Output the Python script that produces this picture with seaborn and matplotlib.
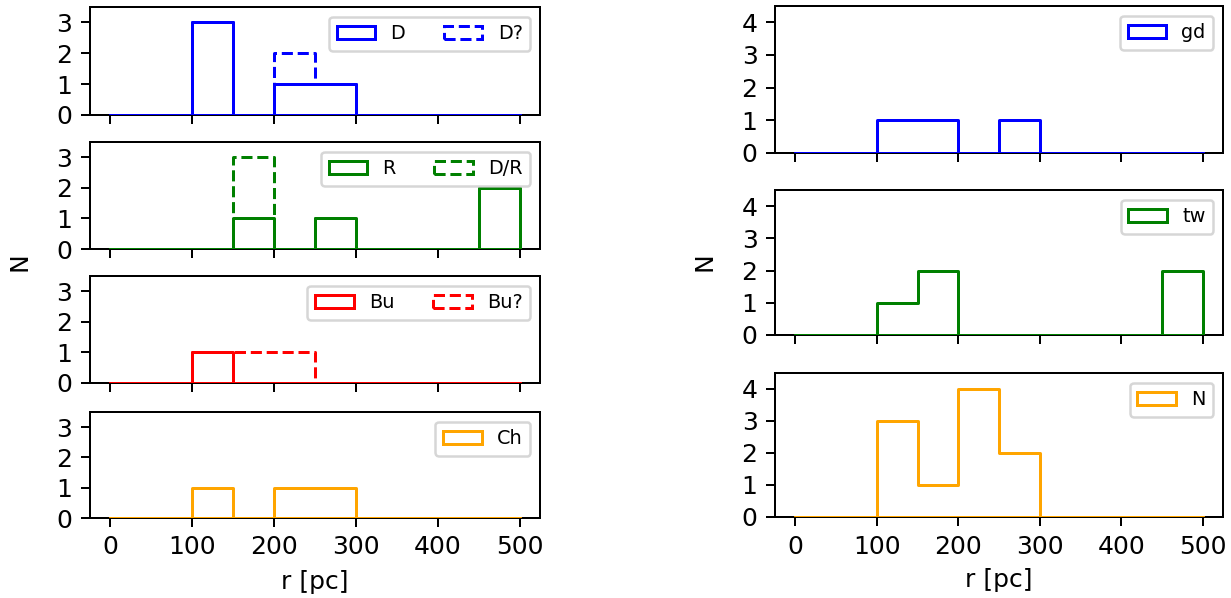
import pandas as pd
import matplotlib.pyplot as plt
from matplotlib.patches import Patch
import seaborn as sns

plt.rcParams.update({'font.size': 10})

# 50 pc bins from 0 to 500 pc
edges = list(range(0, 550, 50))
centers = [e + 25 for e in edges[:-1]]

# counts per bin (dashed series include the solid ones)
D = [0, 0, 3, 0, 1, 1, 0, 0, 0, 0]
D_q = [0, 0, 3, 0, 2, 1, 0, 0, 0, 0]
R = [0, 0, 0, 1, 0, 1, 0, 0, 0, 2]
D_R = [0, 0, 0, 3, 0, 1, 0, 0, 0, 2]
Bu = [0, 0, 1, 0, 0, 0, 0, 0, 0, 0]
Bu_q = [0, 0, 1, 1, 1, 0, 0, 0, 0, 0]
Ch = [0, 0, 1, 0, 1, 1, 0, 0, 0, 0]
gd = [0, 0, 1, 1, 0, 1, 0, 0, 0, 0]
tw = [0, 0, 1, 2, 0, 0, 0, 0, 0, 2]
N_ = [0, 0, 3, 1, 4, 2, 0, 0, 0, 0]

left_panels = [
    [("D", D, "blue", "-"), ("D?", D_q, "blue", "--")],
    [("R", R, "green", "-"), ("D/R", D_R, "green", "--")],
    [("Bu", Bu, "red", "-"), ("Bu?", Bu_q, "red", "--")],
    [("Ch", Ch, "orange", "-")],
]
right_panels = [
    [("gd", gd, "blue", "-")],
    [("tw", tw, "green", "-")],
    [("N", N_, "orange", "-")],
]

W, H, DPI = 1231, 598, 180
fig = plt.figure(figsize=(W / DPI, H / DPI), dpi=DPI)

def px_axes(x0, x1, y0, y1):
    return fig.add_axes([x0 / W, 1 - y1 / H, (x1 - x0) / W, (y1 - y0) / H])

left_rows = [(7, 115), (142, 249), (276, 383), (412, 518)]
right_rows = [(6, 153), (190, 335), (373, 517)]

def draw(ax, series, ymax, last):
    handles = []
    for label, counts, color, ls in series[::-1]:
        df = pd.DataFrame({"r": centers, "n": counts})
        # step outline, closed down to the baseline like a step histogram
        sns.histplot(data=df, x="r", weights="n", bins=edges, element="step",
                     fill=True, color=color, facecolor="none", edgecolor=color,
                     linestyle=ls, linewidth=1.2, zorder=3, ax=ax)
    for label, counts, color, ls in series:
        handles.append(Patch(facecolor="none", edgecolor=color, linestyle=ls,
                             linewidth=1.2, label=label))
    ax.set_xlim(-25, 525)
    ax.set_ylim(0, ymax)
    ax.set_yticks(range(int(ymax) + 1))
    ax.set_xticks(range(0, 600, 100))
    ax.set_ylabel("")
    if last:
        ax.set_xlabel("r [pc]")
    else:
        ax.set_xlabel("")
        ax.set_xticklabels([])
    ax.legend(handles=handles, loc="upper right", ncol=len(handles), fontsize=7.7)

for i, (series, (y0, y1)) in enumerate(zip(left_panels, left_rows)):
    ax = px_axes(90, 540, y0, y1)
    draw(ax, series, 3.5, i == len(left_panels) - 1)

for i, (series, (y0, y1)) in enumerate(zip(right_panels, right_rows)):
    ax = px_axes(775, 1223, y0, y1)
    draw(ax, series, 4.5, i == len(right_panels) - 1)

fig.text(20 / W, 1 - 262 / H, "N", rotation=90, ha="center", va="center")
fig.text(705 / W, 1 - 262 / H, "N", rotation=90, ha="center", va="center")

fig.savefig("out.png", dpi=DPI)
